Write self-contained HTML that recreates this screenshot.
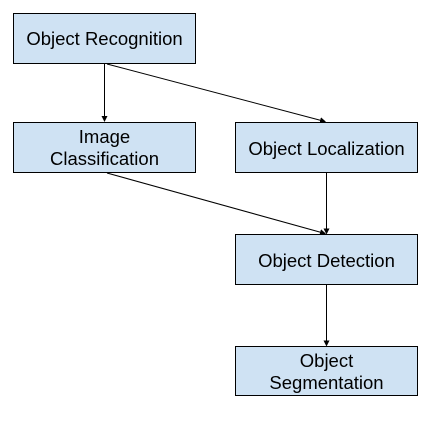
<!DOCTYPE html>
<html><head><style>body{margin:0;background:#fff}</style></head><body>
<svg width="439" height="419" xmlns="http://www.w3.org/2000/svg" font-family="Liberation Sans, Arial, sans-serif" font-size="18.5" fill="#000">
<defs><marker id="a" markerWidth="6" markerHeight="6" refX="5" refY="3" orient="auto" markerUnits="userSpaceOnUse"><path d="M0,0 L6,3 L0,6 z" fill="#000"/></marker></defs>
<g fill="#cfe2f3" stroke="#000" stroke-width="1">
<rect x="13.5" y="13.5" width="182" height="50"/>
<rect x="13.5" y="122.5" width="182" height="50"/>
<rect x="235.5" y="122.5" width="182" height="50"/>
<rect x="235.5" y="234.5" width="182" height="50"/>
<rect x="235.5" y="346.5" width="182" height="49"/>
</g>
<g stroke="#000" stroke-width="1" fill="none">
<line x1="104.5" y1="64" x2="104.5" y2="121" marker-end="url(#a)"/>
<line x1="107" y1="64" x2="325" y2="121.5" marker-end="url(#a)"/>
<line x1="107" y1="173" x2="325" y2="233.5" marker-end="url(#a)"/>
<line x1="326.5" y1="173" x2="326.5" y2="233.5" marker-end="url(#a)"/>
<line x1="326.5" y1="285" x2="326.5" y2="345.5" marker-end="url(#a)"/>
</g>
<g text-anchor="middle">
<text x="104.5" y="45">Object Recognition</text>
<text x="104.5" y="143">Image</text>
<text x="104.5" y="165">Classification</text>
<text x="326.5" y="155">Object Localization</text>
<text x="326.5" y="267">Object Detection</text>
<text x="326.5" y="367">Object</text>
<text x="326.5" y="389">Segmentation</text>
</g>
</svg>
</body></html>
